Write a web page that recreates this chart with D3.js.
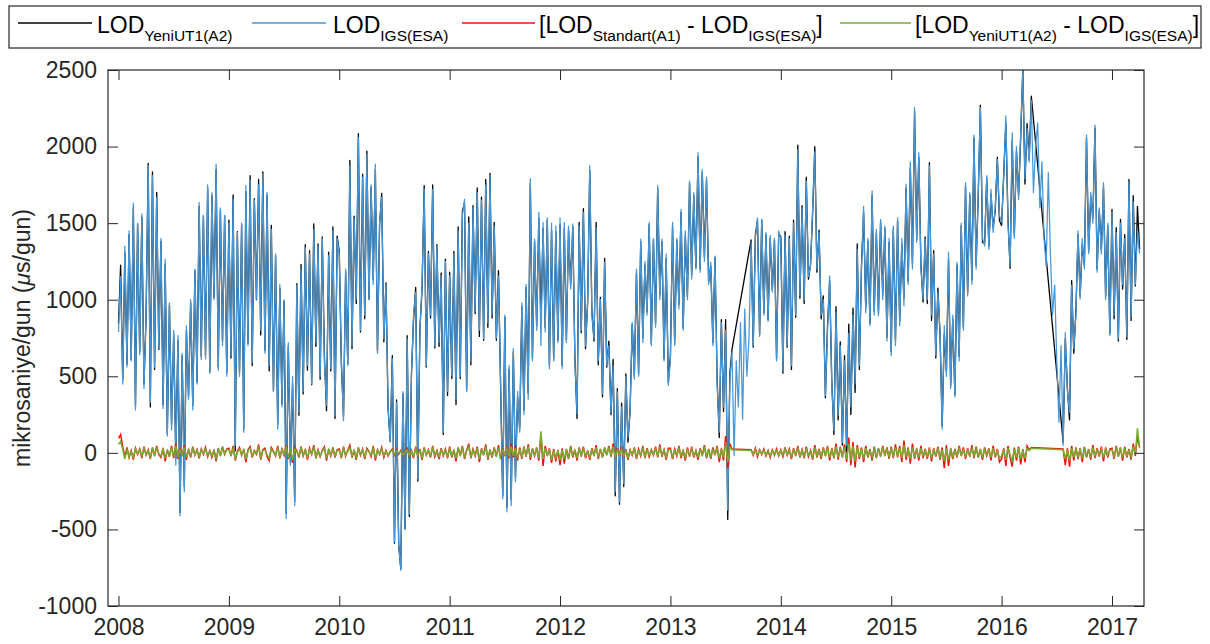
<!DOCTYPE html>
<html>
<head>
<meta charset="utf-8">
<script src="https://cdn.jsdelivr.net/npm/d3@7"></script>
<style>
  body { margin: 0; background: #fff; }
  text { font-family: "Liberation Sans", Arial, Helvetica, sans-serif; }
</style>
</head>
<body>
<div id="chart"></div>
<script>
(function () {

  // weekly samples, t = year + i/52
  var years = [2008, 2009, 2010, 2011, 2012, 2013, 2014, 2015, 2016, 2017]
  var yTicks = [-1000, -500, 0, 500, 1000, 1500, 2000, 2500]

  // LOD IGS(ESA), microseconds/day
  var igs08 = [790,1150,450,1350,560,1450,600,1630,280,1500,640,1560,420,900,1875,330,1810,560,1670,680,1400,290,1265,110,980,150,800,-80,765,-410,650,-255,830,350,1000,280,1200,450,1635,610,1550,613,1750,520,1700,1000,1885,540,1600,700,1550,500]
  var igs09 = [1500,635,1655,48,1440,500,1500,135,1745,700,1780,590,1650,1005,1750,800,1820,650,1700,570,1460,400,1300,155,1100,300,1000,-430,720,-80,500,-345,1095,265,1200,400,1340,570,1300,450,1460,720,1350,500,1400,600,310,1290,550,1450,245,1400]
  var igs10 = [1300,600,210,1200,570,1875,700,1530,1005,2060,800,1800,900,1950,1000,1750,1100,1885,650,1500,1670,745,1100,300,70,615,-580,330,-600,-767,400,-500,745,-400,500,900,1050,-170,800,1100,1720,570,1300,900,1720,700,1350,720,1155,135,1250,400]
  var igs11 = [1155,505,1300,350,1450,500,1550,1655,400,1500,600,1600,925,1700,800,1650,745,1750,850,1810,900,1480,750,1155,460,-300,900,-385,570,-345,680,-190,400,135,980,250,1100,350,1790,600,1395,800,1570,700,1505,790,1535,550,1500,600,1480,720]
  var igs12 = [1535,550,1505,720,1480,1070,1495,600,255,1480,800,1570,700,980,1875,900,745,1470,600,1000,385,1245,570,700,265,570,-255,400,-320,300,-200,500,100,265,850,480,1200,500,1395,720,1250,900,1505,700,1400,820,1745,1000,1395,600,1300,440]
  var igs13 = [615,1505,700,1400,940,1590,800,1450,1000,1775,1135,1700,1200,1960,1180,1850,1250,1800,1100,1245,700,1285,450,135,850,300,800,-375,480,655,-17,600,300,850,220,940,500,745,1375,700,1400,1535,760,1525,900,1440,860,1420,1050,1400,600,1450]
  var igs14 = [1395,535,1420,700,1400,570,1500,900,1980,1030,1600,1000,1775,1150,1220,1600,1965,1200,1440,900,1000,375,800,1155,450,145,915,245,700,70,600,48,780,300,900,450,1330,570,1200,1610,915,1400,830,1710,900,1460,895,1525,1000,1480,730,1400]
  var igs15 = [635,1480,700,1535,830,1400,960,1755,1100,1900,1200,2255,1375,1960,1200,1005,1395,1000,1875,900,1300,635,1050,800,155,830,500,1310,420,900,365,1245,600,1500,800,1765,1025,1700,1100,2075,1200,1700,2255,1400,1350,1810,1330,1720,1440,1600,1915,1550]
  var igs16 = [1505,1800,2200,1500,1220,2090,1400,2000,1655,2100,2495,1790,2120,1900,2300,1700,2000,2155,1600,1900,1400,1220,1830,1300,900,1095,600,200,700,48,785,400,265,1095,680,900,1450,1005,1400,1200,2075,1300,1700,1500,2140,1180,1600,1300,1765,1000,1500,765]
  var igs17 = [1570,900,1440,745,1500,1100,1400,760,1770,890,1640,1100,1450,1300]

  // LOD Standart(A1) - LOD IGS(ESA)
  var a1d08 = [95,120,40,-25,35,-30,15,-45,30,-10,25,-35,40,-15,20,-40,35,-20,45,-10,-30,30,-55,20,-25,45,-35,60,-40,30,-20,50,-45,25,-30,40,-15,20,-35,25,-10,35,-25,15,-30,20,-55,30,-20,40,-10,25]
  var a1d09 = [30,-20,45,-50,10,35,-15,25,-60,20,40,-30,15,-10,55,-45,20,30,-25,-50,35,10,-20,45,-35,25,-15,50,-40,20,-65,35,15,-30,40,-20,25,-45,30,-10,50,-35,20,-25,15,40,-50,25,-20,35,-30,20]
  var a1d10 = [25,-35,40,-20,15,50,-30,20,-45,35,-15,25,-40,30,10,-25,45,-50,20,-10,35,-30,15,-20,10,25,-15,20,-10,15,-20,10,30,-25,15,-35,40,-20,25,-45,35,-15,20,-30,45,-25,15,-40,30,-20,25,-35]
  var a1d11 = [40,-30,20,-55,35,-20,45,-40,15,60,-35,25,-20,40,-60,30,-15,55,-45,20,-30,35,-25,50,-40,30,-20,45,-35,60,-30,45,-50,35,-40,40,-25,55,-45,30,-20,35,-50,110,-85,45,-20,30,-65,25,-55,20]
  var a1d12 = [-80,30,-70,25,-40,45,-30,20,-50,35,-25,40,-35,15,-45,30,-20,50,-40,25,-30,35,-15,45,-25,60,-35,30,-20,40,-30,25,-45,20,-15,35,-40,25,-20,45,-35,30,-25,20,-15,40,-30,55,-25,20,-45,30]
  var a1d13 = [30,-40,25,-20,45,-35,20,-50,35,-25,40,-30,15,-45,30,-20,50,-35,25,-40,35,-15,45,-60,30,-50,110,-100,60,25,null,null,null,null,null,null,null,null,20,-15,30,-25,20,-10,25,-20,15,-30,20,-15,25,-20]
  var a1d14 = [20,-25,35,-15,25,-40,30,-20,45,-30,20,-35,40,-25,15,-45,50,-30,25,-40,35,-20,45,-50,30,-35,60,-45,40,-30,55,-60,100,-80,70,-95,50,-40,35,-60,45,-30,25,-50,40,-35,30,-25,45,-20,35,-40]
  var a1d15 = [40,-35,55,-30,45,-60,80,-45,35,-70,60,-40,30,-50,45,-35,25,-40,35,-55,30,-25,40,-45,35,-100,50,-85,30,-40,25,-30,45,-20,35,-40,30,-25,50,-35,40,-30,25,-45,35,-20,30,-50,45,-30,25,-60]
  var a1d16 = [-40,30,-85,45,-30,-90,35,-50,40,-75,25,-60,45,20,35,null,null,null,null,null,null,null,null,null,null,null,null,null,null,25,-80,30,-90,45,-50,35,-40,30,-60,40,-30,25,-45,50,-35,30,-25,40,-55,35,-30,25]
  var a1d17 = [30,-40,45,-25,35,-50,40,-30,25,-45,60,-20,110,40]

  // LOD YeniUT1(A2) - LOD IGS(ESA)
  var a2d08 = [55,75,25,-40,20,-25,10,-30,25,-5,20,-20,30,-10,15,-30,25,-15,30,-5,-20,25,-35,15,-15,35,-25,45,-30,20,-15,35,-30,20,-20,30,-10,15,-25,20,-5,25,-20,10,-20,15,-35,20,-15,30,-5,20]
  var a2d09 = [20,-15,30,-35,5,25,-10,20,-40,15,30,-20,10,-5,35,-30,15,20,-15,-35,25,5,-15,30,-25,20,-10,35,-25,15,-45,25,10,-20,30,-15,20,-30,20,-5,35,-25,15,-20,10,30,-35,20,-15,25,-20,15]
  var a2d10 = [15,-25,30,-15,10,35,-20,15,-30,25,-10,20,-25,20,5,-15,30,-35,15,-5,25,-20,10,-15,5,20,-10,15,-5,10,-15,5,20,-15,10,-25,30,-15,15,-30,25,-10,15,-20,30,-15,10,-25,20,-15,15,-25]
  var a2d11 = [25,-20,15,-35,25,-15,30,-25,10,40,-25,15,-15,30,-40,20,-10,35,-30,15,-20,25,-15,35,-25,20,-15,30,-25,40,-20,30,-35,25,-25,30,-20,40,-30,20,-15,25,-35,140,-40,30,-15,20,-45,15,-35,15]
  var a2d12 = [-45,20,-40,15,-25,30,-20,15,-30,25,-15,25,-20,10,-30,20,-15,35,-25,15,-20,25,-10,30,-15,40,-25,20,-15,25,-20,15,-30,15,-10,25,-25,15,-15,30,-25,20,-15,15,-10,25,-20,35,-15,15,-30,20]
  var a2d13 = [20,-25,15,-15,30,-20,15,-30,20,-15,25,-20,10,-25,20,-15,30,-20,15,-25,20,-10,30,-35,20,-30,70,-60,40,20,null,null,null,null,null,null,null,null,15,-10,20,-15,15,-5,15,-15,10,-20,15,-10,15,-15]
  var a2d14 = [15,-15,25,-10,15,-25,20,-15,30,-20,15,-25,25,-15,10,-30,35,-20,15,-25,25,-15,30,-30,20,-25,40,-30,25,-20,35,-40,60,-50,45,-55,35,-25,25,-40,30,-20,15,-30,25,-25,20,-15,30,-15,25,-25]
  var a2d15 = [25,-20,35,-20,30,-35,50,-25,20,-40,35,-25,20,-30,30,-20,15,-25,20,-35,20,-15,25,-30,20,-55,30,-45,20,-25,15,-20,30,-15,20,-25,20,-15,30,-20,25,-20,15,-25,20,-15,20,-30,30,-20,15,-35]
  var a2d16 = [-20,20,-45,30,-15,-50,25,-30,30,-40,15,-35,30,15,30,null,null,null,null,null,null,null,null,null,null,null,null,null,null,20,-40,20,-50,30,-30,25,-25,20,-35,25,-20,15,-25,35,-20,20,-15,25,-30,25,-15,15]
  var a2d17 = [20,-25,30,-15,25,-30,25,-20,15,-25,40,-10,160,30]

  var igsByYear = [igs08, igs09, igs10, igs11, igs12, igs13, igs14, igs15, igs16, igs17]
  var a1ByYear = [a1d08, a1d09, a1d10, a1d11, a1d12, a1d13, a1d14, a1d15, a1d16, a1d17]
  var a2ByYear = [a2d08, a2d09, a2d10, a2d11, a2d12, a2d13, a2d14, a2d15, a2d16, a2d17]

  var rows = []
  years.forEach(function (yr, k) {
    igsByYear[k].forEach(function (v, i) {
      rows.push({t: yr + i / 52, igs: v, d1: a1ByYear[k][i], d2: a2ByYear[k][i]})
    })
  })

  var W = 1210, H = 644
  var box = {left: 108, right: 1144, top: 70, bottom: 606}
  var axisColor = '#262626'
  var blue = '#4597d8', red = '#f2100f', green = '#77ac30'

  var svg = d3.select('#chart').append('svg')
    .attr('width', W)
    .attr('height', H)
    .style('background', '#fff')

  var x = d3.scaleLinear().domain([2007.905, 2017.29]).range([box.left, box.right])
  var y = d3.scaleLinear().domain([-1000, 2500]).range([box.bottom, box.top])

  svg.append('clipPath').attr('id', 'plotclip')
    .append('rect')
    .attr('x', box.left).attr('y', box.top)
    .attr('width', box.right - box.left).attr('height', box.bottom - box.top)

  var plot = svg.append('g').attr('clip-path', 'url(#plotclip)')

  function lineFor (fn) {
    return d3.line().x(d => x(d.t)).y(d => y(fn(d)))
  }

  // A2 only exists where the difference exists; gaps are joined straight
  var a2rows = rows.filter(d => d.d2 !== null && d.d2 !== undefined)
  var a1rows = rows.filter(d => d.d1 !== null && d.d1 !== undefined)

  plot.append('path').datum(a2rows)
    .attr('d', lineFor(d => d.igs + d.d2))
    .attr('fill', 'none').attr('stroke', '#000').attr('stroke-width', 1.3)
    .attr('stroke-linejoin', 'round')

  plot.append('path').datum(rows)
    .attr('d', lineFor(d => d.igs))
    .attr('fill', 'none').attr('stroke', blue).attr('stroke-width', 1.25)
    .attr('stroke-linejoin', 'round')

  plot.append('path').datum(a1rows)
    .attr('d', lineFor(d => d.d1))
    .attr('fill', 'none').attr('stroke', red).attr('stroke-width', 1.5)

  plot.append('path').datum(a2rows)
    .attr('d', lineFor(d => d.d2))
    .attr('fill', 'none').attr('stroke', green).attr('stroke-width', 1.5)

  // axes, ticks pointing inward
  function styleAxis (g) {
    g.select('.domain').remove()
    g.selectAll('line').attr('stroke', axisColor)
    g.selectAll('text').attr('fill', axisColor).style('font-size', '23px')
  }

  svg.append('g')
    .attr('transform', 'translate(0,' + box.bottom + ')')
    .call(d3.axisBottom(x).tickValues(years).tickFormat(d => String(d)).tickSize(-10).tickPadding(13))
    .call(styleAxis)

  svg.append('g')
    .attr('transform', 'translate(0,' + box.top + ')')
    .call(d3.axisTop(x).tickValues(years).tickFormat('').tickSize(-10))
    .call(styleAxis)

  svg.append('g')
    .attr('transform', 'translate(' + box.left + ',0)')
    .call(d3.axisLeft(y).tickValues(yTicks).tickFormat(d => String(d)).tickSize(-10).tickPadding(11))
    .call(styleAxis)

  svg.append('g')
    .attr('transform', 'translate(' + box.right + ',0)')
    .call(d3.axisRight(y).tickValues(yTicks).tickFormat('').tickSize(-10))
    .call(styleAxis)

  svg.append('rect')
    .attr('x', box.left).attr('y', box.top)
    .attr('width', box.right - box.left).attr('height', box.bottom - box.top)
    .attr('fill', 'none').attr('stroke', axisColor).attr('stroke-width', 1.2)

  // y label
  var yl = svg.append('text')
    .attr('transform', 'translate(30,' + ((box.top + box.bottom) / 2) + ') rotate(-90)')
    .attr('text-anchor', 'middle')
    .attr('fill', axisColor)
    .style('font-size', '23px')
  yl.append('tspan').text('mikrosaniye/gun (')
  yl.append('tspan').style('font-style', 'italic').text('\u03bc')
  yl.append('tspan').text('s/gun)')

  // legend
  var legend = svg.append('g')
  legend.append('rect')
    .attr('x', 9).attr('y', 6).attr('width', 1192).attr('height', 42)
    .attr('fill', '#fff').attr('stroke', axisColor).attr('stroke-width', 1.2)

  var legendItems = [
    {color: '#000', x1: 18, x2: 92, tx: 97, parts: [['LOD', 0], ['YeniUT1(A2)', 1]]},
    {color: blue, x1: 252, x2: 326, tx: 333, parts: [['LOD', 0], ['IGS(ESA)', 1]]},
    {color: red, x1: 462, x2: 535, tx: 539, parts: [['[LOD', 0], ['Standart(A1)', 1], [' - LOD', 0], ['IGS(ESA)', 1], [']', 0]]},
    {color: green, x1: 840, x2: 911, tx: 915, parts: [['[LOD', 0], ['YeniUT1(A2)', 1], [' - LOD', 0], ['IGS(ESA)', 1], [']', 0]]}
  ]

  legendItems.forEach(function (it) {
    legend.append('line')
      .attr('x1', it.x1).attr('x2', it.x2).attr('y1', 23).attr('y2', 23)
      .attr('stroke', it.color).attr('stroke-width', 1.5)
    var t = legend.append('text')
      .attr('x', it.tx).attr('y', 33)
      .attr('fill', '#000')
      .style('font-size', '23px')
      .attr('xml:space', 'preserve')
    var low = false
    it.parts.forEach(function (p) {
      var ts = t.append('tspan').text(p[0])
      if (p[1] && !low) { ts.attr('dy', 8).style('font-size', '15.5px'); low = true }
      else if (!p[1] && low) { ts.attr('dy', -8); low = false }
      else if (p[1]) { ts.style('font-size', '15.5px') }
    })
  })

})()
</script>
</body>
</html>
